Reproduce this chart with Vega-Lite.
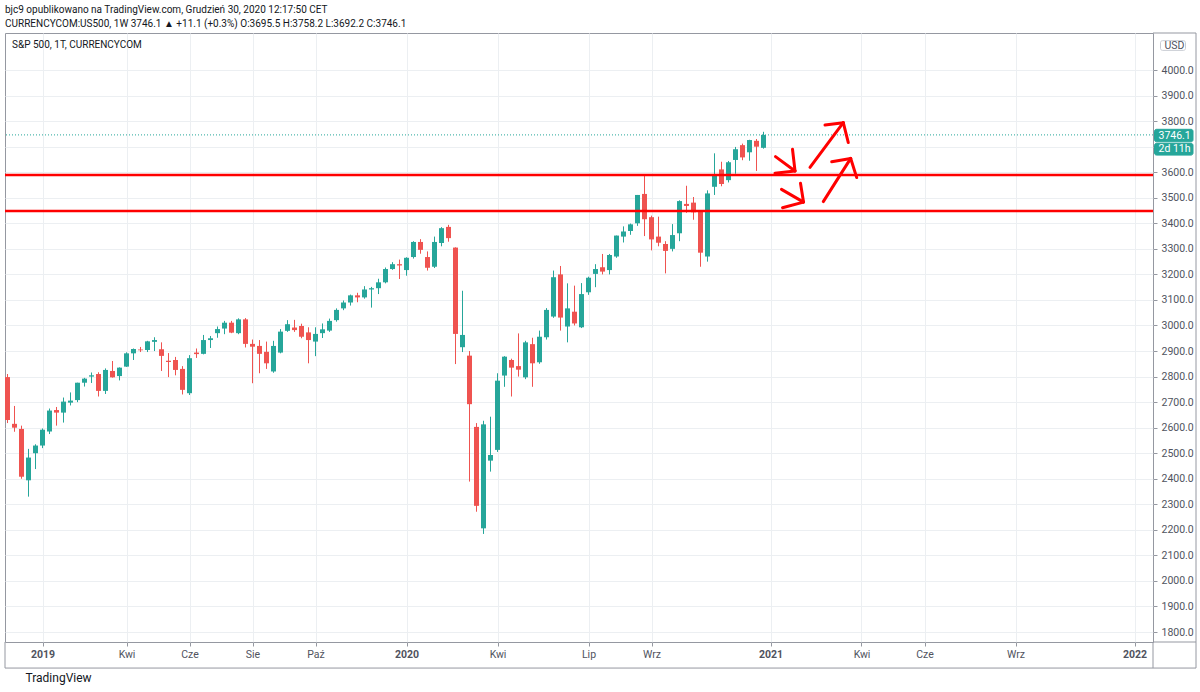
{
"$schema": "https://vega.github.io/schema/vega-lite/v6.json",
"width": 1148, "height": 609,
"autosize": {"type": "none"},
"padding": {"left": 5, "top": 33, "right": 47, "bottom": 50},
"background": "white",
"config": {"view": {"stroke": "#9598a1", "strokeWidth": 1}, "font": "Roboto"},
"title": {"text": "bjc9 opublikowano na TradingView.com, Grudzień 30, 2020 12:17:50 CET", "subtitle": "CURRENCYCOM:US500, 1W  3746.1 ▲ +11.1 (+0.3%)  O:3695.5  H:3758.2  L:3692.2  C:3746.1", "anchor": "start", "frame": "group", "offset": 4, "font": "Roboto", "fontSize": 10, "fontWeight": "normal", "color": "#131722", "subtitleFont": "Roboto", "subtitleFontSize": 10, "subtitleColor": "#131722", "subtitlePadding": 4},
"resolve": {"axis": {"y": "independent"}},
"datasets": {
"candles": [
{"d":"2018-12-03","o":2798,"h":2810,"l":2618,"c":2630},
{"d":"2018-12-10","o":2615,"h":2685,"l":2584,"c":2600},
{"d":"2018-12-17","o":2595,"h":2608,"l":2400,"c":2408},
{"d":"2018-12-24","o":2394,"h":2517,"l":2330,"c":2483},
{"d":"2018-12-31","o":2500,"h":2535,"l":2438,"c":2530},
{"d":"2019-01-07","o":2530,"h":2597,"l":2520,"c":2592},
{"d":"2019-01-14","o":2585,"h":2675,"l":2575,"c":2667},
{"d":"2019-01-21","o":2669,"h":2681,"l":2608,"c":2659},
{"d":"2019-01-28","o":2659,"h":2718,"l":2620,"c":2702},
{"d":"2019-02-04","o":2698,"h":2738,"l":2687,"c":2706},
{"d":"2019-02-11","o":2708,"h":2776,"l":2700,"c":2776},
{"d":"2019-02-18","o":2776,"h":2795,"l":2761,"c":2792},
{"d":"2019-02-25","o":2800,"h":2816,"l":2775,"c":2805},
{"d":"2019-03-04","o":2810,"h":2817,"l":2722,"c":2744},
{"d":"2019-03-11","o":2744,"h":2832,"l":2732,"c":2826},
{"d":"2019-03-18","o":2822,"h":2861,"l":2796,"c":2797},
{"d":"2019-03-25","o":2802,"h":2836,"l":2785,"c":2835},
{"d":"2019-04-01","o":2839,"h":2895,"l":2838,"c":2891},
{"d":"2019-04-08","o":2891,"h":2910,"l":2865,"c":2908},
{"d":"2019-04-15","o":2906,"h":2916,"l":2896,"c":2903},
{"d":"2019-04-22","o":2904,"h":2940,"l":2896,"c":2938},
{"d":"2019-04-29","o":2936,"h":2954,"l":2900,"c":2943},
{"d":"2019-05-06","o":2907,"h":2934,"l":2822,"c":2881},
{"d":"2019-05-13","o":2862,"h":2892,"l":2798,"c":2857},
{"d":"2019-05-20","o":2865,"h":2877,"l":2805,"c":2826},
{"d":"2019-05-27","o":2830,"h":2841,"l":2730,"c":2748},
{"d":"2019-06-03","o":2735,"h":2884,"l":2728,"c":2872},
{"d":"2019-06-10","o":2894,"h":2910,"l":2873,"c":2888},
{"d":"2019-06-17","o":2889,"h":2963,"l":2887,"c":2943},
{"d":"2019-06-24","o":2943,"h":2959,"l":2912,"c":2950},
{"d":"2019-07-01","o":2970,"h":2996,"l":2952,"c":2986},
{"d":"2019-07-08","o":2988,"h":3018,"l":2966,"c":3011},
{"d":"2019-07-15","o":3011,"h":3018,"l":2970,"c":2972},
{"d":"2019-07-22","o":2970,"h":3028,"l":2966,"c":3024},
{"d":"2019-07-29","o":3024,"h":3029,"l":2914,"c":2928},
{"d":"2019-08-05","o":2928,"h":2945,"l":2774,"c":2917},
{"d":"2019-08-12","o":2920,"h":2943,"l":2813,"c":2889},
{"d":"2019-08-19","o":2897,"h":2937,"l":2830,"c":2852},
{"d":"2019-08-26","o":2820,"h":2940,"l":2815,"c":2920},
{"d":"2019-09-02","o":2894,"h":2986,"l":2891,"c":2976},
{"d":"2019-09-09","o":2979,"h":3021,"l":2975,"c":3005},
{"d":"2019-09-16","o":2992,"h":3022,"l":2975,"c":2982},
{"d":"2019-09-23","o":2998,"h":3007,"l":2950,"c":2956},
{"d":"2019-09-30","o":2973,"h":2993,"l":2852,"c":2943},
{"d":"2019-10-07","o":2937,"h":2993,"l":2880,"c":2967},
{"d":"2019-10-14","o":2970,"h":3008,"l":2951,"c":2985},
{"d":"2019-10-21","o":2980,"h":3027,"l":2975,"c":3018},
{"d":"2019-10-28","o":3021,"h":3067,"l":3015,"c":3061},
{"d":"2019-11-04","o":3067,"h":3098,"l":3060,"c":3090},
{"d":"2019-11-11","o":3090,"h":3121,"l":3078,"c":3118},
{"d":"2019-11-18","o":3118,"h":3128,"l":3091,"c":3110},
{"d":"2019-11-25","o":3110,"h":3154,"l":3105,"c":3141},
{"d":"2019-12-02","o":3141,"h":3151,"l":3070,"c":3146},
{"d":"2019-12-09","o":3146,"h":3183,"l":3123,"c":3169},
{"d":"2019-12-16","o":3169,"h":3227,"l":3165,"c":3221},
{"d":"2019-12-23","o":3221,"h":3248,"l":3218,"c":3240},
{"d":"2019-12-30","o":3240,"h":3258,"l":3182,"c":3235},
{"d":"2020-01-06","o":3217,"h":3267,"l":3195,"c":3265},
{"d":"2020-01-13","o":3268,"h":3330,"l":3262,"c":3327},
{"d":"2020-01-20","o":3327,"h":3338,"l":3281,"c":3296},
{"d":"2020-01-27","o":3268,"h":3290,"l":3215,"c":3226},
{"d":"2020-02-03","o":3230,"h":3348,"l":3225,"c":3327},
{"d":"2020-02-10","o":3323,"h":3385,"l":3310,"c":3381},
{"d":"2020-02-17","o":3386,"h":3394,"l":3328,"c":3342},
{"d":"2020-02-24","o":3305,"h":3306,"l":2849,"c":2967},
{"d":"2020-03-02","o":2915,"h":3136,"l":2896,"c":2963},
{"d":"2020-03-09","o":2882,"h":2900,"l":2389,"c":2692},
{"d":"2020-03-16","o":2603,"h":2618,"l":2271,"c":2294},
{"d":"2020-03-23","o":2206,"h":2627,"l":2184,"c":2613},
{"d":"2020-03-30","o":2471,"h":2643,"l":2428,"c":2493},
{"d":"2020-04-06","o":2513,"h":2813,"l":2505,"c":2784},
{"d":"2020-04-13","o":2804,"h":2880,"l":2760,"c":2878},
{"d":"2020-04-20","o":2865,"h":2870,"l":2722,"c":2835},
{"d":"2020-04-27","o":2841,"h":2969,"l":2800,"c":2827},
{"d":"2020-05-04","o":2797,"h":2940,"l":2790,"c":2934},
{"d":"2020-05-11","o":2927,"h":2952,"l":2760,"c":2852},
{"d":"2020-05-18","o":2856,"h":2980,"l":2850,"c":2956},
{"d":"2020-05-25","o":2954,"h":3068,"l":2945,"c":3061},
{"d":"2020-06-01","o":3035,"h":3215,"l":3030,"c":3189},
{"d":"2020-06-08","o":3200,"h":3233,"l":2980,"c":3031},
{"d":"2020-06-15","o":2996,"h":3165,"l":2934,"c":3067},
{"d":"2020-06-22","o":3054,"h":3156,"l":3000,"c":3008},
{"d":"2020-06-29","o":2993,"h":3166,"l":2990,"c":3123},
{"d":"2020-07-06","o":3130,"h":3191,"l":3120,"c":3187},
{"d":"2020-07-13","o":3202,"h":3240,"l":3150,"c":3221},
{"d":"2020-07-20","o":3228,"h":3280,"l":3200,"c":3211},
{"d":"2020-07-27","o":3217,"h":3280,"l":3200,"c":3276},
{"d":"2020-08-03","o":3270,"h":3352,"l":3265,"c":3352},
{"d":"2020-08-10","o":3348,"h":3388,"l":3325,"c":3368},
{"d":"2020-08-17","o":3370,"h":3399,"l":3355,"c":3396},
{"d":"2020-08-24","o":3400,"h":3511,"l":3390,"c":3511},
{"d":"2020-08-31","o":3515,"h":3585,"l":3350,"c":3416},
{"d":"2020-09-07","o":3424,"h":3430,"l":3294,"c":3337},
{"d":"2020-09-14","o":3348,"h":3426,"l":3310,"c":3324},
{"d":"2020-09-21","o":3319,"h":3330,"l":3204,"c":3292},
{"d":"2020-09-28","o":3300,"h":3397,"l":3290,"c":3354},
{"d":"2020-10-05","o":3361,"h":3490,"l":3330,"c":3487},
{"d":"2020-10-12","o":3476,"h":3547,"l":3441,"c":3468},
{"d":"2020-10-19","o":3481,"h":3503,"l":3414,"c":3443},
{"d":"2020-10-26","o":3446,"h":3450,"l":3230,"c":3285},
{"d":"2020-11-02","o":3270,"h":3529,"l":3250,"c":3517},
{"d":"2020-11-09","o":3543,"h":3674,"l":3511,"c":3589},
{"d":"2020-11-16","o":3611,"h":3641,"l":3545,"c":3554},
{"d":"2020-11-23","o":3569,"h":3644,"l":3560,"c":3639},
{"d":"2020-11-30","o":3648,"h":3699,"l":3594,"c":3690},
{"d":"2020-12-07","o":3706,"h":3712,"l":3647,"c":3658},
{"d":"2020-12-14","o":3678,"h":3727,"l":3645,"c":3726},
{"d":"2020-12-21","o":3723,"h":3730,"l":3605,"c":3700},
{"d":"2020-12-28","o":3695.5,"h":3758.2,"l":3692.2,"c":3746.1}
],
"levels": [{"v": 3589}, {"v": 3448}],
"last": [{"v": 3746.1}],
"arrows": [
{"d":"2021-01-09T00:00:00","v":3661,"d2":"2021-01-28T12:00:00","v2":3605},
{"d":"2021-01-26T00:00:00","v":3690,"d2":"2021-01-28T12:00:00","v2":3605},
{"d":"2021-01-08T12:00:00","v":3596,"d2":"2021-01-28T12:00:00","v2":3605},
{"d":"2021-01-15T00:00:00","v":3533,"d2":"2021-02-06T00:00:00","v2":3483},
{"d":"2021-02-03T00:00:00","v":3557,"d2":"2021-02-06T00:00:00","v2":3483},
{"d":"2021-01-16T00:00:00","v":3461,"d2":"2021-02-06T00:00:00","v2":3483},
{"d":"2021-02-12T12:00:00","v":3619,"d2":"2021-03-17T19:00:00","v2":3794},
{"d":"2021-02-27T12:00:00","v":3785,"d2":"2021-03-17T19:00:00","v2":3794},
{"d":"2021-03-22T19:00:00","v":3716,"d2":"2021-03-17T19:00:00","v2":3794},
{"d":"2021-02-25T19:00:00","v":3485,"d2":"2021-03-25T05:00:00","v2":3654},
{"d":"2021-03-06T05:00:00","v":3641,"d2":"2021-03-25T05:00:00","v2":3654},
{"d":"2021-03-31T05:00:00","v":3579,"d2":"2021-03-25T05:00:00","v2":3654}
],
"frame": [
{"d":"2022-01-21T12:00:00","v":4145,"d2":"2022-03-05T12:00:00","v2":4145},
{"d":"2022-03-05T12:00:00","v":4145,"d2":"2022-03-05T12:00:00","v2":1659},
{"d":"2018-11-30T12:00:00","v":1659,"d2":"2022-03-05T12:00:00","v2":1659},
{"d":"2018-11-30T12:00:00","v":1761,"d2":"2018-11-30T12:00:00","v2":1659},
{"d":"2022-01-21T12:00:00","v":1761,"d2":"2022-03-05T12:00:00","v2":1761},
{"d":"2022-01-21T12:00:00","v":1761,"d2":"2022-01-21T12:00:00","v2":1659}
],
"boxes": [
{"k":"price","d":"2022-01-23T00:00:00","d2":"2022-03-02T12:00:00","v":3719,"v2":3768,"vm":3743.5,"t":"3746.1"},
{"k":"timer","d":"2022-01-23T00:00:00","d2":"2022-03-02T12:00:00","v":3667,"v2":3713,"vm":3690,"t":"2d 11h"},
{"k":"usd","d":"2022-01-29T00:00:00","d2":"2022-02-23T00:00:00","v":4077,"v2":4115,"vm":4096,"t":"USD"}
],
"notes": [{"d":"2018-12-07T12:00:00","v":4098,"t":"S&P 500, 1T, CURRENCYCOM"}]
},
"layer": [
{"data": {"name": "candles"},
 "mark": {"type": "rule", "strokeWidth": 1},
 "encoding": {
  "x": {"field": "d", "type": "temporal",
    "scale": {"domain": [{"year":2018,"month":11,"date":30,"hours":12}, {"year":2022,"month":1,"date":21,"hours":12}], "nice": false, "padding": 0},
    "axis": {"title": "TradingView", "titleAnchor": "start", "titleAlign": "left", "titleX": 20, "titleY": 35, "titleBaseline": "middle", "titleFont": "Roboto", "titleFontSize": 12, "titleFontWeight": "normal", "titleColor": "#131722",
      "values": [{"year":2019,"month":1,"date":7},{"year":2019,"month":4,"date":1},{"year":2019,"month":6,"date":3},{"year":2019,"month":8,"date":5},{"year":2019,"month":10,"date":7},{"year":2020,"month":1,"date":6},{"year":2020,"month":4,"date":6},{"year":2020,"month":7,"date":6},{"year":2020,"month":9,"date":7},{"year":2021,"month":1,"date":4},{"year":2021,"month":4,"date":5},{"year":2021,"month":6,"date":7},{"year":2021,"month":9,"date":6},{"year":2022,"month":1,"date":3}],
      "labelExpr": "month(datum.value) == 0 ? timeFormat(datum.value, '%Y') : ['Sty','Lut','Mar','Kwi','Maj','Cze','Lip','Sie','Wrz','Paź','Lis','Gru'][month(datum.value)]",
      "labelFontWeight": {"condition": {"test": "month(datum.value) == 0", "value": "bold"}, "value": "normal"},
      "labelFont": "Roboto", "labelFontSize": 10.5, "labelColor": "#50535e", "labelPadding": 3,
      "domain": false, "ticks": true, "tickSize": 4, "tickColor": "#9598a1",
      "grid": true, "gridColor": "#eceff2", "labelFlush": false, "labelOverlap": false}},
  "y": {"field": "l", "type": "quantitative",
    "scale": {"domain": [1761, 4145], "nice": false, "zero": false, "padding": 0},
    "axis": {"orient": "right", "title": null, "zindex": 0, "values": [1800,1900,2000,2100,2200,2300,2400,2500,2600,2700,2800,2900,3000,3100,3200,3300,3400,3500,3600,3700,3800,3900,4000],
      "labelExpr": "datum.value == 3700 ? '' : format(datum.value, '.1f')",
      "labelFont": "Roboto", "labelFontSize": 10.5, "labelColor": "#50535e", "labelPadding": 4,
      "domain": false, "ticks": true, "tickSize": 4, "tickColor": "#9598a1",
      "grid": true, "gridColor": "#eceff2", "labelOverlap": false}},
  "y2": {"field": "h"},
  "color": {"condition": {"test": "datum.c >= datum.o", "value": "#26a69a"}, "value": "#ef5350"}
 }},
{"data": {"name": "candles"},
 "mark": {"type": "bar", "width": 5},
 "encoding": {
  "x": {"field": "d", "type": "temporal"},
  "y": {"field": "o", "type": "quantitative", "axis": null},
  "y2": {"field": "c"},
  "color": {"condition": {"test": "datum.c >= datum.o", "value": "#26a69a"}, "value": "#ef5350"}
 }},
{"data": {"name": "frame"},
 "mark": {"type": "rule", "color": "#9598a1", "strokeWidth": 1},
 "encoding": {
  "x": {"field": "d", "type": "temporal"},
  "x2": {"field": "d2"},
  "y": {"field": "v", "type": "quantitative", "axis": null},
  "y2": {"field": "v2"}
 }},
{"data": {"name": "last"},
 "mark": {"type": "rule", "color": "#26a69a", "strokeWidth": 1, "strokeDash": [1, 2]},
 "encoding": {"y": {"field": "v", "type": "quantitative", "axis": null}}},
{"data": {"name": "levels"},
 "mark": {"type": "rule", "color": "#ff0000", "strokeWidth": 2.5},
 "encoding": {"y": {"field": "v", "type": "quantitative", "axis": null}}},
{"data": {"name": "arrows"},
 "mark": {"type": "rule", "color": "#ff0000", "strokeWidth": 3, "strokeCap": "round"},
 "encoding": {
  "x": {"field": "d", "type": "temporal"},
  "x2": {"field": "d2"},
  "y": {"field": "v", "type": "quantitative", "axis": null},
  "y2": {"field": "v2"}
 }},
{"data": {"name": "boxes"},
 "mark": {"type": "rect", "cornerRadius": 2, "strokeWidth": 1},
 "encoding": {
  "x": {"field": "d", "type": "temporal"},
  "x2": {"field": "d2"},
  "y": {"field": "v", "type": "quantitative", "axis": null},
  "y2": {"field": "v2"},
  "fill": {"field": "k", "type": "nominal", "legend": null, "scale": {"domain": ["price", "timer", "usd"], "range": ["#26a69a", "#26a69a", "#ffffff"]}},
  "stroke": {"field": "k", "type": "nominal", "legend": null, "scale": {"domain": ["price", "timer", "usd"], "range": ["#26a69a", "#26a69a", "#c9ccd3"]}}
 }},
{"data": {"name": "boxes"},
 "mark": {"type": "text", "align": "left", "baseline": "middle", "dx": 4, "font": "Roboto", "fontSize": 10.5},
 "encoding": {
  "x": {"field": "d", "type": "temporal"},
  "y": {"field": "vm", "type": "quantitative", "axis": null},
  "text": {"field": "t"},
  "color": {"field": "k", "type": "nominal", "legend": null, "scale": {"domain": ["price", "timer", "usd"], "range": ["#ffffff", "#ffffff", "#50535e"]}}
 }},
{"data": {"name": "notes"},
 "mark": {"type": "text", "align": "left", "baseline": "middle", "font": "Roboto", "fontSize": 10, "color": "#131722"},
 "encoding": {
  "x": {"field": "d", "type": "temporal"},
  "y": {"field": "v", "type": "quantitative", "axis": null},
  "text": {"field": "t"}
 }}
]
}
